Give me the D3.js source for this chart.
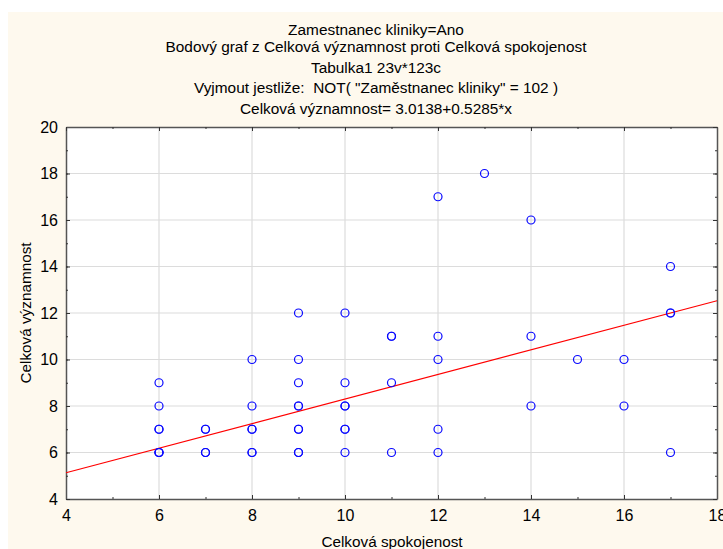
<!DOCTYPE html>
<html>
<head>
<meta charset="utf-8">
<script src="https://cdn.jsdelivr.net/npm/d3@7"></script>
<style>
body { margin: 0; background: #fff; }
text { font-family: "Liberation Sans", Arial, sans-serif; fill: #000; white-space: pre; }
</style>
</head>
<body>
<svg id="chart" width="723" height="549"></svg>
<script>
var titleLines = [
  "Zamestnanec kliniky=Ano",
  "Bodový graf z Celková významnost proti Celková spokojenost",
  "Tabulka1 23v*123c",
  "Vyjmout jestliže:  NOT( \"Zaměstnanec kliniky\" = 102 )",
  "Celková významnost= 3.0138+0.5285*x"
];
var xTitle = "Celková spokojenost";
var yTitle = "Celková významnost";

// Celková spokojenost (x), Celková významnost (y); repeated pairs are overlapping points
var spokojenost = [6,6,6,6,6,6,6, 7,7,7,7, 8,8,8,8,8,8, 9,9,9,9,9,9,9,9,9, 10,10,10,10,10,10,10, 11,11,11,11, 12,12,12,12,12, 13, 14,14,14, 15, 16,16, 17,17,17,17];
var vyznamnost =  [9,8,7,7,6,6,6, 7,7,6,6, 10,8,7,7,6,6, 12,10,9,8,8,7,7,6,6, 12,9,8,8,7,7,6, 11,11,9,6, 17,11,10,7,6, 18, 16,11,8, 10, 10,8, 14,12,12,6];

var intercept = 3.0138, slope = 0.5285;
var xTicks = [4, 6, 8, 10, 12, 14, 16, 18];
var yTicks = [4, 6, 8, 10, 12, 14, 16, 18, 20];

var svg = d3.select("#chart");
var pLeft = 66, pRight = 717, pTop = 127, pBottom = 499;

var x = d3.scaleLinear().domain([4, 18]).range([pLeft, pRight]);
var y = d3.scaleLinear().domain([4, 20]).range([pBottom, pTop]);

svg.append("rect").attr("x", 8).attr("y", 12).attr("width", 715).attr("height", 537).attr("fill", "#fef9ee");
svg.append("rect").attr("x", pLeft).attr("y", pTop).attr("width", pRight - pLeft).attr("height", pBottom - pTop).attr("fill", "#fff");

// grid
svg.append("g").selectAll("line").data(xTicks.slice(1, -1)).enter().append("line")
  .attr("x1", d => x(d)).attr("x2", d => x(d)).attr("y1", pTop).attr("y2", pBottom)
  .attr("stroke", "#dcdcdc").attr("stroke-width", 1.2);
svg.append("g").selectAll("line").data(yTicks.slice(1, -1)).enter().append("line")
  .attr("y1", d => y(d)).attr("y2", d => y(d)).attr("x1", pLeft).attr("x2", pRight)
  .attr("stroke", "#dcdcdc").attr("stroke-width", 1.2);

// axes, ticks inward
var minorX = d3.range(4, 18.5, 1), minorY = d3.range(4, 20.5, 1);
function styleAxis(g) {
  g.select(".domain").attr("stroke", "#555").attr("stroke-width", 1.5);
  g.selectAll(".tick line").attr("stroke", "#333");
  g.selectAll("text").style("font-size", "16px").style("font-family", "Liberation Sans, Arial, sans-serif");
}
function minor(g) {
  g.select(".domain").remove();
  g.selectAll("line").attr("stroke", "#333");
}
svg.append("g").attr("transform", "translate(0," + pBottom + ")")
  .call(d3.axisBottom(x).tickValues(xTicks).tickSize(-4).tickPadding(11).tickSizeOuter(0))
  .call(styleAxis);
svg.append("g").attr("transform", "translate(0," + pBottom + ")")
  .call(d3.axisBottom(x).tickValues(minorX).tickSize(-2).tickFormat("").tickSizeOuter(0))
  .call(minor);
svg.append("g").attr("transform", "translate(" + pLeft + ",0)")
  .call(d3.axisLeft(y).tickValues(yTicks).tickSize(-4).tickPadding(8).tickSizeOuter(0))
  .call(styleAxis);
svg.append("g").attr("transform", "translate(" + pLeft + ",0)")
  .call(d3.axisLeft(y).tickValues(minorY).tickSize(-2).tickFormat("").tickSizeOuter(0))
  .call(minor);
svg.append("g").attr("transform", "translate(0," + pTop + ")")
  .call(d3.axisTop(x).tickValues(xTicks).tickSize(-4).tickFormat("").tickSizeOuter(0))
  .call(styleAxis);
svg.append("g").attr("transform", "translate(0," + pTop + ")")
  .call(d3.axisTop(x).tickValues(minorX).tickSize(-2).tickFormat("").tickSizeOuter(0))
  .call(minor);
svg.append("g").attr("transform", "translate(" + pRight + ",0)")
  .call(d3.axisRight(y).tickValues(yTicks).tickSize(-4).tickFormat("").tickSizeOuter(0))
  .call(styleAxis);
svg.append("g").attr("transform", "translate(" + pRight + ",0)")
  .call(d3.axisRight(y).tickValues(minorY).tickSize(-2).tickFormat("").tickSizeOuter(0))
  .call(minor);

// regression line
svg.append("line")
  .attr("x1", x(4)).attr("y1", y(intercept + slope * 4))
  .attr("x2", x(18)).attr("y2", y(intercept + slope * 18))
  .attr("stroke", "#ff0000").attr("stroke-width", 1.2);

// points
svg.append("g").selectAll("circle").data(spokojenost).enter().append("circle")
  .attr("cx", d => x(d)).attr("cy", (d, i) => y(vyznamnost[i]))
  .attr("r", 4).attr("fill", "none").attr("stroke", "#0a0aff").attr("stroke-width", 1.2);

// titles
svg.append("g").selectAll("text").data(titleLines).enter().append("text")
  .attr("x", 376).attr("y", (d, i) => [35, 52, 73, 93, 114][i])
  .attr("text-anchor", "middle").style("font-size", "15.4px").text(d => d);
svg.append("text").attr("x", 392).attr("y", 547).attr("text-anchor", "middle")
  .style("font-size", "15.3px").text(xTitle);
svg.append("text").attr("transform", "translate(31,313) rotate(-90)").attr("text-anchor", "middle")
  .style("font-size", "15.3px").text(yTitle);
</script>
</body>
</html>
